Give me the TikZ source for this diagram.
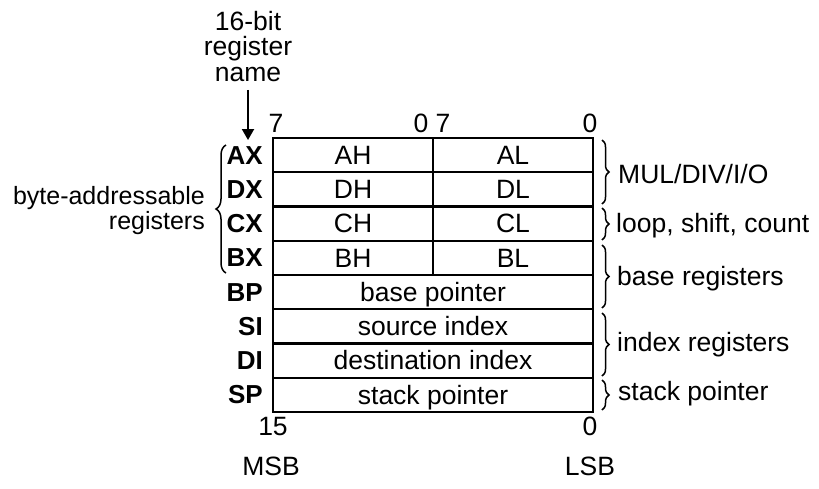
\documentclass[tikz,border=0pt]{standalone}
\usepackage{fontspec}
\setmainfont{Liberation Sans}
\usetikzlibrary{decorations.pathreplacing,calc,arrows.meta}
\begin{document}
\begin{tikzpicture}[x=1pt,y=-1pt,
  every node/.style={inner sep=0pt, font=\fontsize{26.5}{25.5}\selectfont},
  cell/.style={draw, line width=2.2pt, minimum height=34.25pt, text height=18.5pt, text depth=0pt},
  full/.style={cell, minimum width=320pt},
  half/.style={cell, minimum width=160pt},
  reg/.style={anchor=base east, font=\fontsize{26}{25.5}\selectfont\bfseries},
  bitnum/.style={anchor=base},
  rbrace/.style={decorate, decoration={brace, amplitude=7pt}, line width=1.5pt},
  lbrace/.style={decorate, decoration={brace, amplitude=10pt}, line width=1.5pt},
  note/.style={anchor=base west},
  arr/.style={-{Triangle[length=11pt,width=12pt]}, line width=2pt}
]
\useasboundingbox (0,0) rectangle (819,488);

% register cells
\node[half] (AH) at (353,155.125) {AH};
\node[half] (AL) at (513,155.125) {AL};
\node[half] (DH) at (353,189.375) {DH};
\node[half] (DL) at (513,189.375) {DL};
\node[half] (CH) at (353,223.625) {CH};
\node[half] (CL) at (513,223.625) {CL};
\node[half] (BH) at (353,257.875) {BH};
\node[half] (BL) at (513,257.875) {BL};
\node[full] (BPc) at (433,292.125) {base pointer};
\node[full] (SIc) at (433,326.375) {source index};
\node[full] (DIc) at (433,360.625) {destination index};
\node[full] (SPc) at (433,394.875) {stack pointer};

% register names
\node[reg] (AX) at (263,164.1) {AX};
\node[reg] (DX) at (263,198.4) {DX};
\node[reg] (CX) at (263,232.6) {CX};
\node[reg] (BX) at (263,266.9) {BX};
\node[reg] (BP) at (263,301.1) {BP};
\node[reg] (SI) at (263,335.4) {SI};
\node[reg] (DI) at (263,369.6) {DI};
\node[reg] (SP) at (263,403.9) {SP};

% bit numbers
\node[bitnum] (b7a) at (276,132) {7};
\node[bitnum] (b0a) at (421,132) {0};
\node[bitnum] (b7b) at (443,132) {7};
\node[bitnum] (b0b) at (590,132) {0};
\node[bitnum] (b15) at (273,435) {15};
\node[bitnum] (b0c) at (590,435) {0};
\node[bitnum] (msb) at (271,475) {MSB};
\node[bitnum] (lsb) at (590,475) {LSB};

% title and arrow
\node[anchor=north, align=center] (title) at (248,11) {16-bit\\register\\name};
\draw[arr, shorten <=8pt, shorten >=6pt] (title.south) -- (title.south |- AX.north);

% left brace and label
\draw[lbrace] (226,273) -- (226,145);
\node[anchor=north east, align=right, font=\fontsize{25}{25.5}\selectfont] (byte) at (205,186) {byte-addressable\\registers};

% right braces and labels
\draw[rbrace] (602,140) -- (602,204);
\draw[rbrace] (602,208) -- (602,240);
\draw[rbrace] (602,245) -- (602,308);
\draw[rbrace] (602,313) -- (602,376);
\draw[rbrace] (602,380) -- (602,410);
\node[note] (mul) at (618,183) {MUL/DIV/I/O};
\node[note] (loop) at (616,232) {loop, shift, count};
\node[note] (base) at (617,285) {base registers};
\node[note] (index) at (617,351) {index registers};
\node[note] (stack) at (618,400) {stack pointer};
\end{tikzpicture}
\end{document}
